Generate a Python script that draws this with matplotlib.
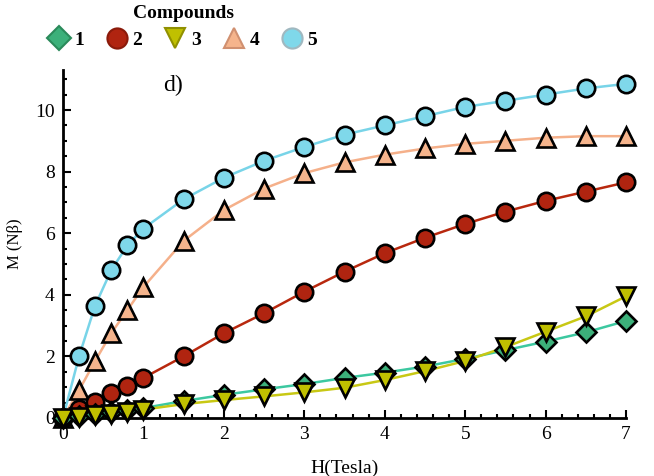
import numpy as np
import matplotlib.pyplot as plt
from matplotlib.ticker import MultipleLocator

plt.rcParams['font.family'] = ['Liberation Serif', 'DejaVu Serif']

# field values (Tesla)
H = [0, 0.2, 0.4, 0.6, 0.8, 1.0, 1.5, 2.0, 2.5, 3.0, 3.5, 4.0, 4.5, 5.0, 5.5, 6.0, 6.5, 7.0]

# magnetisation for each compound
M1 = [0, 0.05, 0.12, 0.18, 0.25, 0.32, 0.55, 0.75, 0.93, 1.1, 1.3, 1.47, 1.67, 1.92, 2.2, 2.48, 2.78, 3.15]
M2 = [0, 0.3, 0.52, 0.8, 1.05, 1.3, 2.0, 2.75, 3.4, 4.1, 4.75, 5.35, 5.85, 6.3, 6.7, 7.05, 7.35, 7.65]
M3 = [0, 0.02, 0.08, 0.13, 0.2, 0.27, 0.45, 0.58, 0.7, 0.83, 0.98, 1.23, 1.52, 1.85, 2.3, 2.8, 3.3, 3.95]
M4 = [0, 0.9, 1.85, 2.75, 3.5, 4.25, 5.75, 6.75, 7.45, 7.95, 8.3, 8.55, 8.75, 8.9, 9.0, 9.1, 9.15, 9.15]
M5 = [0, 2.0, 3.65, 4.8, 5.6, 6.15, 7.1, 7.8, 8.35, 8.8, 9.2, 9.5, 9.8, 10.1, 10.3, 10.5, 10.7, 10.85]

labels = ['1', '2', '3', '4', '5']
series = [M1, M2, M3, M4, M5]
markers = ['D', 'o', 'v', '^', 'o']
line_colors = ['#3cc8a0', '#b8280e', '#c8c814', '#f5b08a', '#78d4e8']
face_colors = ['#3cb07a', '#b02410', '#c0c000', '#f5b48c', '#7fd8ea']
edge_legend = ['#2a8a5a', '#8a1a0a', '#909000', '#d09070', '#a0b8c0']
msizes = [10.5, 12.5, 12.5, 12.5, 12.5]
order = [3, 4, 1, 0, 2]

fig = plt.figure(figsize=(6.54, 4.76), dpi=100)
ax = fig.add_axes([0.0963, 0.122, 0.861, 0.731])

for i in order:
    ax.plot(H, series[i], color=line_colors[i], lw=1.8, zorder=2, clip_on=False)
    ax.plot(H, series[i], ls='none', marker=markers[i], ms=msizes[i],
            mfc=face_colors[i], mec='black', mew=1.9, zorder=3, clip_on=False)

ax.set_xlim(0, 7)
ax.set_ylim(0, 11.3)
ax.xaxis.set_major_locator(MultipleLocator(1))
ax.xaxis.set_minor_locator(MultipleLocator(0.2))
ax.yaxis.set_major_locator(MultipleLocator(2))
ax.yaxis.set_minor_locator(MultipleLocator(0.5))
ax.tick_params(which='both', direction='in', width=1.5, labelsize=14, pad=6)
ax.tick_params(which='major', length=6)
ax.tick_params(which='minor', length=3)
for s in ['top', 'right']:
    ax.spines[s].set_visible(False)
for s in ['left', 'bottom']:
    ax.spines[s].set_linewidth(2)

ax.set_xlabel('H(Tesla)', fontsize=14, labelpad=12)
ax.set_ylabel('M (Nβ)', fontsize=12, labelpad=9)
ax.text(1.25, 10.8, 'd)', fontsize=17, ha='left', va='center')

handles = []
for i in range(5):
    h, = ax.plot([], [], ls='none', marker=markers[i], ms=msizes[i] + 2,
                 mfc=face_colors[i], mec=edge_legend[i], mew=1.5)
    handles.append(h)
leg = fig.legend(handles, labels, title='Compounds', ncol=5, loc='upper center',
                 bbox_to_anchor=(0.28, 1.027), frameon=False, handlelength=1.0,
                 handletextpad=0.3, columnspacing=1.2,
                 prop={'weight': 'bold', 'size': 14},
                 title_fontproperties={'weight': 'bold', 'size': 14})

fig.savefig('out.png', dpi=100)
